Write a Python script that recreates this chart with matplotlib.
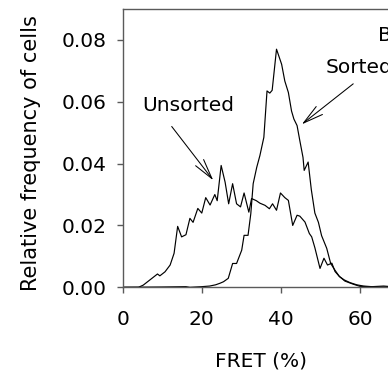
import matplotlib
matplotlib.use("Agg")
import matplotlib.pyplot as plt
from matplotlib.ticker import FormatStrFormatter

# FRET distributions (FRET %, relative frequency of cells)
unsorted_fret = [0, 4.0, 5.2, 6.9, 8.8, 9.4, 10.7, 12.0, 13.0, 13.9, 14.9, 16.0,
                 17.0, 17.8, 19.0, 20.0, 21.0, 22.1, 23.3, 23.9, 24.9, 25.9, 26.8,
                 27.8, 28.8, 29.8, 30.7, 31.9, 32.6, 33.8, 34.7, 36.0, 37.1, 37.9,
                 38.9, 39.9, 41.0, 41.9, 43.0, 44.1, 44.8, 46.1, 47.2, 47.8, 48.6,
                 49.9, 50.9, 51.8, 52.9, 53.7, 54.8, 56.0, 57.5, 59.2, 60.9, 63.0,
                 66.0, 68.0, 70.0]
unsorted_freq = [0, 0, 0.0007, 0.0024, 0.0043, 0.0037, 0.0050, 0.0072, 0.0110,
                 0.0197, 0.0163, 0.0170, 0.0223, 0.0210, 0.0255, 0.0240, 0.0290,
                 0.0266, 0.0300, 0.0280, 0.0394, 0.0340, 0.0270, 0.0335, 0.0270,
                 0.0260, 0.0305, 0.0243, 0.0287, 0.0280, 0.0272, 0.0265, 0.0254,
                 0.0270, 0.0249, 0.0305, 0.0290, 0.0281, 0.0200, 0.0233, 0.0230,
                 0.0211, 0.0174, 0.0163, 0.0128, 0.0061, 0.0094, 0.0072, 0.0078,
                 0.0051, 0.0035, 0.0024, 0.0015, 0.0008, 0.0004, 0.0002, 0.0004,
                 0.0002, 0.0002]

sorted_fret = [0, 10.0, 16.0, 17.0, 20.0, 22.0, 23.5, 24.6, 25.5, 26.7, 27.8, 28.8,
               30.1, 30.7, 31.7, 32.4, 33.0, 33.9, 34.7, 35.7, 36.5, 37.2, 37.8,
               38.9, 40.2, 41.0, 41.9, 42.7, 43.3, 44.1, 44.8, 45.6, 45.9, 46.9,
               47.7, 48.6, 49.5, 50.3, 51.6, 52.6, 53.7, 54.8, 56.2, 58.3, 60.0,
               62.0, 65.0, 70.0]
sorted_freq = [0, 0.0001, 0.0002, 0.0, 0.0002, 0.0004, 0.0008, 0.0013, 0.0018,
               0.0029, 0.0077, 0.0077, 0.0120, 0.0168, 0.0168, 0.0238, 0.0335,
               0.0388, 0.0426, 0.0485, 0.0635, 0.0628, 0.0637, 0.0770, 0.0721,
               0.0667, 0.0630, 0.0570, 0.0544, 0.0523, 0.0474, 0.0420, 0.0378,
               0.0405, 0.0316, 0.0240, 0.0210, 0.0167, 0.0126, 0.0077, 0.0055,
               0.0035, 0.0020, 0.0010, 0.0003, 0.0002, 0.0001, 0.0002]

x_ticks = [0, 20, 40, 60]
y_ticks = [0.00, 0.02, 0.04, 0.06, 0.08]

FS = 14.5
spine_col = "#5a5a5a"

fig = plt.figure(figsize=(3.88, 3.73), dpi=100)
ax = fig.add_axes([0.3162, 0.2298, 0.7134, 0.7461])

ax.plot(unsorted_fret, unsorted_freq, color="black", lw=0.85)
ax.plot(sorted_fret, sorted_freq, color="black", lw=0.85)

ax.set_xlim(0, 70)
ax.set_ylim(0, 0.09)
ax.set_xticks(x_ticks)
ax.set_yticks(y_ticks)
ax.yaxis.set_major_formatter(FormatStrFormatter("%.2f"))

for side in ("left", "bottom", "top"):
    ax.spines[side].set_color(spine_col)
    ax.spines[side].set_linewidth(1.0)
ax.spines["right"].set_visible(False)

ax.tick_params(axis="both", direction="out", length=4, width=1.0,
               color=spine_col, labelsize=FS, labelcolor="black")
ax.tick_params(axis="x", pad=12)
ax.tick_params(axis="y", pad=7.5)

ax.set_xlabel("FRET (%)", fontsize=FS)
ax.set_ylabel("Relative frequency of cells", fontsize=15)
axw_px = 0.7134 * 388
axh_px = 0.7461 * 373
ax.xaxis.set_label_coords((261 - 122.7) / axw_px, -(352 - 287.3) / axh_px)
ax.yaxis.set_label_coords(-(122.7 - 41) / axw_px, 0.484)

arrow = dict(arrowstyle="->,head_length=1.0,head_width=0.25", lw=0.75,
             color="black", shrinkA=0, shrinkB=0)
ax.annotate("", xy=(22.9, 0.0346), xytext=(12.4, 0.052), arrowprops=arrow,
            fontsize=FS)
ax.annotate("", xy=(45.3, 0.0527), xytext=(58.3, 0.0658), arrowprops=arrow,
            fontsize=FS)
ax.text(5.0, 0.0571, "Unsorted", fontsize=FS, ha="left", va="baseline")
ax.text(51.2, 0.0694, "Sorted", fontsize=FS, ha="left", va="baseline")
ax.text(64.5, 0.0797, "B", fontsize=FS, ha="left", va="baseline")

fig.savefig("out.png", dpi=100)
